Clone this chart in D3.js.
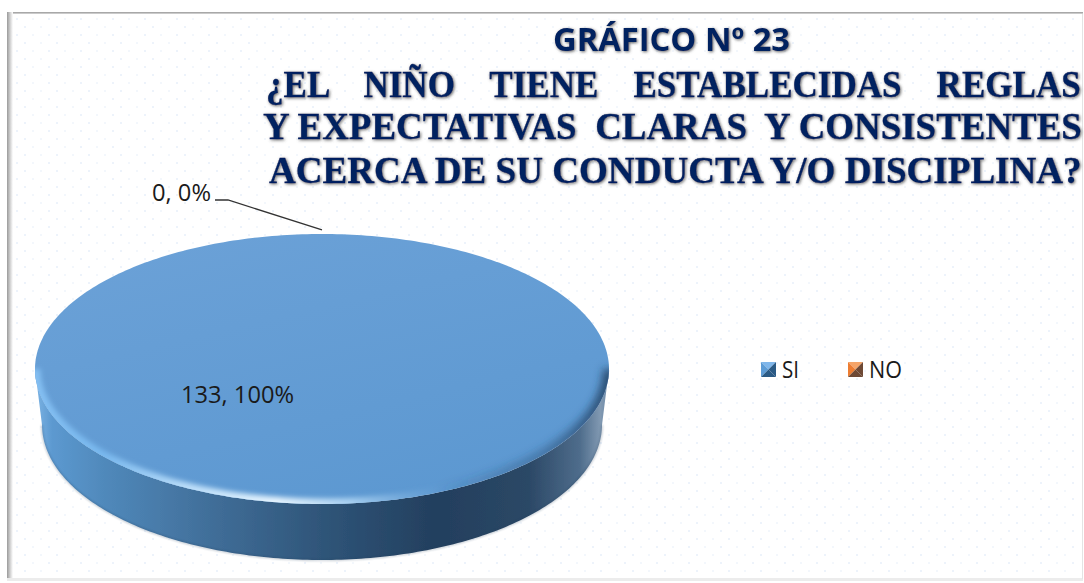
<!DOCTYPE html>
<html><head><meta charset="utf-8">
<script src="https://cdn.jsdelivr.net/npm/d3@7/dist/d3.min.js"></script>
<style>html,body{margin:0;padding:0;background:#fff}svg{display:block}</style></head>
<body><svg id="c" width="1084" height="583"></svg>
<script>
const categories = ["SI", "NO"];
const values = [133, 0];
const percents = ["100%", "0%"];
const heading = "GRÁFICO Nº 23";
const questionLines = [
  "¿EL    NIÑO    TIENE    ESTABLECIDAS    REGLAS",
  "Y EXPECTATIVAS  CLARAS  Y CONSISTENTES",
  "ACERCA DE SU CONDUCTA Y/O DISCIPLINA?"
];

const svg = d3.select("#c");
const defs = svg.append("defs");
const W = 1084, H = 583;
const cx = 322, cy = 369, rx = 287, ry = 135, depth = 56, rxB = 280;
const x = d3.scaleLinear().domain([-1, 1]).range([cx - rx, cx + rx]);
const y = d3.scaleLinear().domain([-1, 1]).range([cy - ry, cy + ry]);
const colour = d3.scaleOrdinal().domain(categories).range(["#5b9bd5", "#ed7d31"]);
const dark = d3.scaleOrdinal().domain(categories).range(["#2c5a85", "#6e4a34"]);
const light = d3.scaleOrdinal().domain(categories).range(["#7fb6ea", "#f5a468"]);

function grad(id, stops, attrs) {
  const g = defs.append("linearGradient").attr("id", id);
  Object.entries(attrs).forEach(([k, v]) => g.attr(k, v));
  stops.forEach(s => g.append("stop").attr("offset", s[0]).attr("stop-color", s[1]).attr("stop-opacity", s[2] === undefined ? 1 : s[2]));
}
grad("side", [[0, "#7db4e4"], [0.03, "#5c99d0"], [0.12, "#5089bb"], [0.3, "#416f9a"], [0.5, "#2f5579"], [0.7, "#233f5e"], [0.86, "#2b4866"], [0.95, "#4f6d8c"], [0.985, "#8199b2"], [1, "#6a89a8"]],
  {gradientUnits: "userSpaceOnUse", x1: cx - rx, x2: cx + rx, y1: 0, y2: 0});
grad("top", [[0, "#6ba1d7"], [1, "#5c98d1"]], {x1: 0.2, y1: 0, x2: 0.7, y2: 1});
grad("rim", [[0, "#84bff2"], [0.12, "#78b8ee"], [0.26, "#b8dcf9"], [0.42, "#e6f4fe"], [0.55, "#a8d0f1"], [0.72, "#5c98d1", 0.3], [1, "#5c98d1", 0]],
  {gradientUnits: "userSpaceOnUse", x1: cx - rx, x2: cx + rx, y1: 0, y2: 0});
grad("rimDark", [[0, "#1e3c5c", 0], [0.7, "#1e3c5c", 0], [0.88, "#2a5078", 0.45], [1, "#1e3c5c", 0.85]],
  {gradientUnits: "userSpaceOnUse", x1: cx - rx, x2: cx + rx, y1: 0, y2: 0});
grad("frameL", [[0, "#9a9a9a"], [0.6, "#d8d8d8"], [1, "#ffffff"]], {x1: 0, x2: 1, y1: 0, y2: 0});

const dots = defs.append("pattern").attr("id", "dots").attr("patternUnits", "userSpaceOnUse")
  .attr("x", 12).attr("y", 16).attr("width", 32).attr("height", 16);
[[4, 2], [20, 2], [12, 10], [28, 10]].forEach((p, i) => dots.append("rect")
  .attr("x", p[0]).attr("y", p[1]).attr("width", 2).attr("height", 2)
  .attr("fill", i % 2 ? "#f3f7fc" : "#edf3fb"));

const blur = (id, s) => defs.append("filter").attr("id", id).attr("x", "-10%").attr("y", "-10%").attr("width", "120%").attr("height", "120%")
  .append("feGaussianBlur").attr("stdDeviation", s);
blur("b4", 2.8); blur("b5", 4); blur("b1", 0.8); blur("b05", 0.45);
const shadow = defs.append("filter").attr("id", "ts").attr("x", "-3%").attr("y", "-20%").attr("width", "106%").attr("height", "140%");
shadow.append("feGaussianBlur").attr("in", "SourceAlpha").attr("stdDeviation", 1.7).attr("result", "b");
shadow.append("feOffset").attr("in", "b").attr("dx", 1).attr("dy", 1).attr("result", "o");
shadow.append("feFlood").attr("flood-color", "#555").attr("flood-opacity", 0.9);
shadow.append("feComposite").attr("in2", "o").attr("operator", "in");
const sm = shadow.append("feMerge");
sm.append("feMergeNode"); sm.append("feMergeNode").attr("in", "SourceGraphic");

// background and frame
svg.append("rect").attr("width", W).attr("height", H).attr("fill", "#fff");
svg.append("rect").attr("x", 12).attr("y", 14).attr("width", 1068).attr("height", 564).attr("fill", "url(#dots)");
svg.append("rect").attr("x", 7).attr("y", 12).attr("width", 1076).attr("height", 1.6).attr("fill", "#a8a8a8");
svg.append("rect").attr("x", 7).attr("y", 12).attr("width", 6).attr("height", 568).attr("fill", "url(#frameL)");
svg.append("rect").attr("x", 7).attr("y", 578).attr("width", 1076).attr("height", 3).attr("fill", "#ececec");
svg.append("rect").attr("x", 1082).attr("y", 14).attr("width", 1).attr("height", 565).attr("fill", "#e4e4e4");

// pie
const pieData = d3.pie().sort(null).value(d => d.value)(categories.map((c, i) => ({c, value: values[i], pct: percents[i]})));
const ellipse = d3.line().x(a => x(Math.sin(a))).y(a => y(-Math.cos(a)));
const ring = d3.range(0, 2 * Math.PI + 0.01, Math.PI / 180);
const half = d3.range(Math.PI / 2, 3 * Math.PI / 2 + 0.001, Math.PI / 180);
const sidePts = half.map(a => [x(Math.sin(a)), y(-Math.cos(a))])
  .concat(half.slice().reverse().map(a => [cx + rxB * Math.sin(a), y(-Math.cos(a)) + depth]));
const g = svg.append("g");
g.append("path").attr("d", d3.line()(sidePts) + "Z").attr("fill", "url(#side)").attr("filter", "url(#b05)");
g.append("path").attr("d", d3.line()(half.map(a => [cx + rxB * Math.sin(a), y(-Math.cos(a)) + depth])))
  .attr("fill", "none").attr("stroke", "#26405c").attr("stroke-width", 1.2).attr("filter", "url(#b1)").attr("opacity", 0.45);

const slice = pieData[0];
const sliceRing = ring.filter(a => a >= slice.startAngle && a <= slice.endAngle);
const topPath = ellipse(sliceRing) + "Z";
defs.append("clipPath").attr("id", "topClip").append("path").attr("d", topPath);
g.append("path").attr("d", topPath).attr("fill", "url(#top)");
const bevel = g.append("g").attr("clip-path", "url(#topClip)");
bevel.append("path").attr("d", ellipse(half)).attr("fill", "none").attr("stroke", "url(#rim)").attr("stroke-width", 11).attr("filter", "url(#b4)");
bevel.append("path").attr("d", ellipse(half)).attr("fill", "none").attr("stroke", "url(#rimDark)").attr("stroke-width", 12).attr("filter", "url(#b5)");

// leader line for the empty slice
const noSlice = pieData[1];
const tip = [x(Math.sin(noSlice.startAngle) * 1.02), y(-Math.cos(noSlice.startAngle) * 1.03)];
g.append("path").attr("d", d3.line()([[215, 200], [228, 200], tip])).attr("fill", "none").attr("stroke", "#333").attr("stroke-width", 1.3);

// data labels
const labelFont = "'Open Sans','Noto Sans',sans-serif";
svg.selectAll("text.dl").data(pieData).join("text").attr("class", "dl")
  .attr("x", d => d.data.c === "SI" ? 181 : 152)
  .attr("y", d => d.data.c === "SI" ? 403 : 201)
  .attr("textLength", d => d.data.c === "SI" ? 113 : 59)
  .attr("lengthAdjust", "spacingAndGlyphs")
  .attr("font-family", labelFont).attr("font-size", 23).attr("fill", "#1a1a1a")
  .text(d => `${d.data.value}, ${d.data.pct}`);

// legend
const legendX = d3.scaleOrdinal().domain(categories).range([761, 848]);
const legendW = d3.scaleOrdinal().domain(categories).range([17, 33]);
const lg = svg.selectAll("g.lg").data(categories).join("g").attr("class", "lg")
  .attr("transform", d => `translate(${legendX(d)},362)`);
const s = 15;
const tris = [[[0, 0], [s, 0], [s / 2, s / 2]], [[0, 0], [0, s], [s / 2, s / 2]], [[s, 0], [s, s], [s / 2, s / 2]], [[0, s], [s, s], [s / 2, s / 2]]];
lg.each(function(d) {
  const n = d3.select(this).append("g").attr("filter", "url(#b05)");
  const cols = [light(d), colour(d), dark(d), dark(d)];
  tris.forEach((t, i) => n.append("path").attr("d", d3.line()(t) + "Z").attr("fill", cols[i]));
});
lg.append("text").attr("x", 21).attr("y", 16).attr("font-family", labelFont).attr("font-size", 23).attr("fill", "#1a1a1a")
  .attr("textLength", d => legendW(d)).attr("lengthAdjust", "spacingAndGlyphs").text(d => d);

// titles
svg.append("text").attr("x", 553).attr("y", 51).attr("textLength", 237).attr("lengthAdjust", "spacingAndGlyphs")
  .attr("font-family", "'Open Sans','Noto Sans',sans-serif").attr("font-weight", 700).attr("font-size", 32)
  .attr("fill", "#002060").attr("filter", "url(#ts)").text(heading);
const lineY = [97, 139, 183], lineX = [266, 263, 269], lineW = [815, 819, 813];
svg.selectAll("text.q").data(questionLines).join("text").attr("class", "q")
  .style("white-space", "pre")
  .attr("font-family", "'Liberation Serif',serif").attr("font-weight", 700).attr("font-size", 38)
  .attr("fill", "#002060").attr("stroke", "#002060").attr("stroke-width", 0.3).attr("filter", "url(#ts)").text(d => d)
  .attr("transform", function(d, i) {
    const sx = lineW[i] / this.getComputedTextLength();
    return `translate(${lineX[i]},${lineY[i]}) scale(${sx},1)`;
  });
</script></body></html>
